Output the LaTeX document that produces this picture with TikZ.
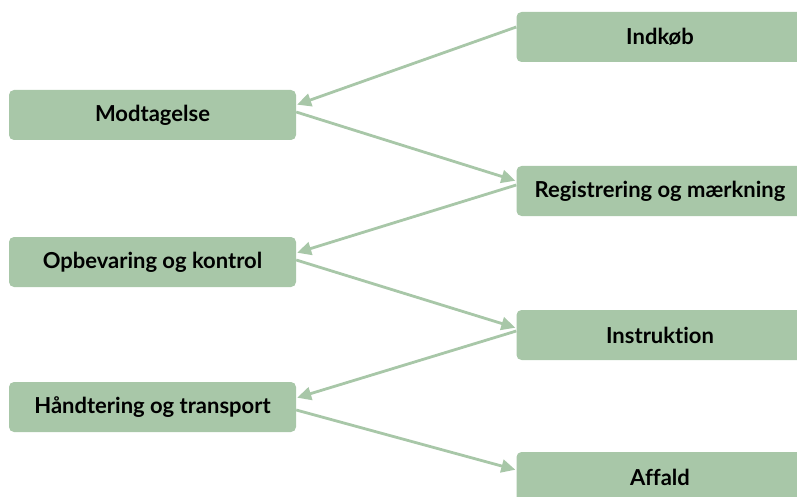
\documentclass[tikz,border=0pt]{standalone}
\usepackage{fontspec}
\setmainfont{Lato}[Ligatures={NoCommon}]
\usetikzlibrary{arrows.meta}
\definecolor{groen}{RGB}{168,199,168}
\tikzset{
	fase/.style={rectangle, rounded corners=5pt, fill=groen, minimum width=287pt, minimum height=50pt, inner sep=0pt, font=\fontsize{22}{26}\selectfont\bfseries},
	pil/.style={draw=groen, line width=2.8pt, -{Triangle[length=14pt,width=13pt]}, shorten >=1pt}
}
\begin{document}
\begin{tikzpicture}[x=1pt, y=-1pt]
		\useasboundingbox (0,0) rectangle (797,497);
		\def\xl{152.5}
		\def\xr{660}
		\node[fase] (indkob) at (\xr, 37) {Indkøb};
		\node[fase] (modtag) at (\xl, 115) {Modtagelse};
		\node[fase] (reg) at (\xr, 191) {Registrering og mærkning};
		\node[fase] (opbev) at (\xl, 262) {Opbevaring og kontrol};
		\node[fase] (instr) at (\xr, 335) {Instruktion};
		\node[fase] (handt) at (\xl, 407) {Håndtering og transport};
		\node[fase] (affald) at (\xr, 477) {Affald};
		\draw[pil] ([yshift=10pt]indkob.west) -- ([yshift=10pt]modtag.east);
		\draw[pil] ([yshift=3pt]modtag.east) -- ([yshift=10pt]reg.west);
		\draw[pil] ([yshift=6pt]reg.west) -- ([yshift=9pt]opbev.east);
		\draw[pil] ([yshift=2pt]opbev.east) -- ([yshift=7pt]instr.west);
		\draw[pil] ([yshift=4pt]instr.west) -- ([yshift=9pt]handt.east);
		\draw[pil] ([yshift=-3pt]handt.east) -- ([yshift=7pt]affald.west);
	\end{tikzpicture}
\end{document}
